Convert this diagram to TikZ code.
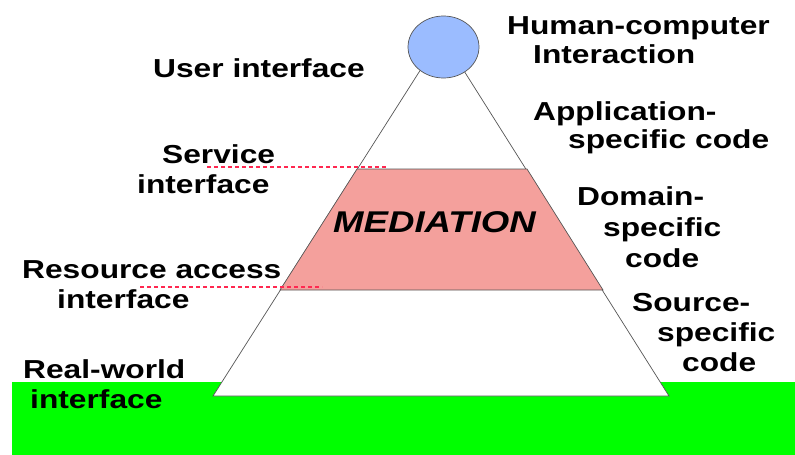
\documentclass[tikz,border=0pt]{standalone}
\usepackage{fontspec}
\setmainfont{Liberation Sans}[FakeStretch=1.22]
\usetikzlibrary{shapes.geometric}
\definecolor{pinkfill}{RGB}{244,160,156}
\definecolor{bluefill}{RGB}{155,188,255}
\definecolor{greenfill}{RGB}{0,255,0}
\definecolor{dashred}{RGB}{255,40,80}
\definecolor{edgegray}{RGB}{85,85,85}
\tikzset{
  lbl/.style={anchor=base west, inner sep=0pt, font=\fontsize{26}{28}\selectfont\bfseries},
  edge/.style={draw=edgegray, line width=0.7pt},
  guide/.style={draw=dashred, dash pattern=on 4pt off 3pt, line width=1.2pt}
}
\begin{document}
\begin{tikzpicture}[x=1pt,y=-1pt]
\useasboundingbox (0,0) rectangle (795,455);
% ground
\fill[greenfill] (12,382) rectangle (795,455);
% pyramid
\coordinate (apex) at (442,36);
\coordinate (bl) at (213,396);
\coordinate (br) at (669,396);
\filldraw[fill=white, edge] (apex) -- (bl) -- (br) -- cycle;
% mediation band
\filldraw[fill=pinkfill, edge] (357,169) -- (527,169) -- (603,290) -- (280,290) -- cycle;
% apex ellipse
\node[ellipse, draw=edgegray, line width=0.7pt, fill=bluefill, minimum width=71pt, minimum height=62pt, inner sep=0pt] (hci) at (443.5,47) {};
% guides
\coordinate (s1) at (207,167);
\coordinate (s2) at (388,167);
\coordinate (r1) at (140,287);
\coordinate (r2) at (322,287);
\draw[guide] (s1) -- (s2);
\draw[guide] (r1) -- (r2);
% labels
\node[lbl] (h1) at (507,34) {Human-computer};
\node[lbl] (h2) at (533,63) {Interaction};
\node[lbl] (ui) at (153,77) {User interface};
\node[lbl] (a1) at (533,120) {Application-};
\node[lbl] (a2) at (568,148) {specific code};
\node[lbl] (sv1) at (162,163) {Service};
\node[lbl] (sv2) at (137,193) {interface};
\node[anchor=base west, inner sep=0pt, font=\fontsize{30}{31}\selectfont\bfseries\itshape] (med) at (333,232) {MEDIATION};
\node[lbl] (d1) at (577,205) {Domain-};
\node[lbl] (d2) at (603,236) {specific};
\node[lbl] (d3) at (625,267) {code};
\node[lbl] (ra1) at (22,278) {Resource access};
\node[lbl] (ra2) at (57,308) {interface};
\node[lbl] (so1) at (632,311) {Source-};
\node[lbl] (so2) at (657,341) {specific};
\node[lbl] (so3) at (682,371) {code};
\node[lbl] (rw1) at (23,378) {Real-world};
\node[lbl] (rw2) at (30,408) {interface};
\end{tikzpicture}
\end{document}
